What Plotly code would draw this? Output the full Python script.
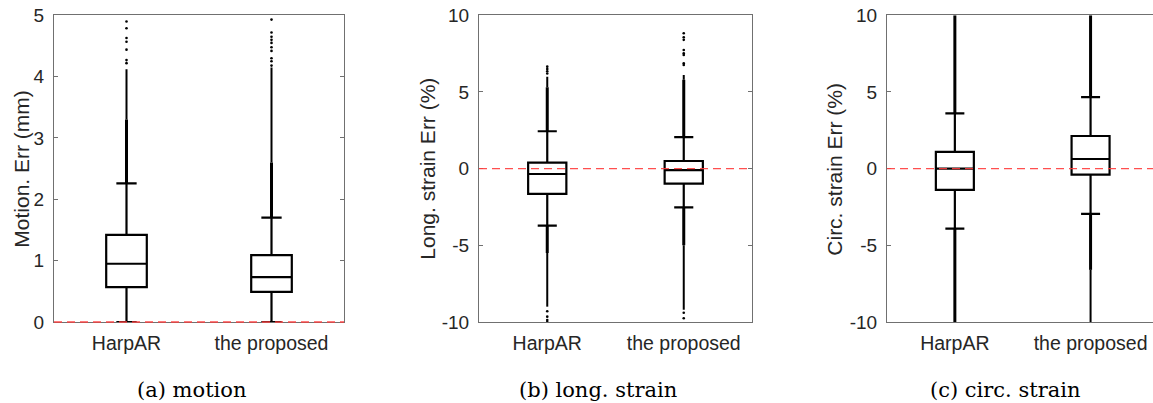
import plotly.graph_objects as go

categories = ["HarpAR", "the proposed"]

# ---- (a) motion ----
motion_q1 = [0.57, 0.49]
motion_med = [0.95, 0.73]
motion_q3 = [1.42, 1.09]
motion_lo = [0.0, 0.0]
motion_hi = [2.26, 1.70]
motion_thick_top = [3.3, 2.6]
motion_thin_top = [4.12, 4.15]
motion_sparse_harpar = [4.22, 4.27, 4.44, 4.57, 4.63, 4.79, 4.90]
motion_sparse_proposed = [4.18, 4.25, 4.30, 4.42, 4.48, 4.55, 4.60, 4.65, 4.72, 4.93]

# ---- (b) long. strain ----
long_q1 = [-1.65, -0.98]
long_med = [-0.35, -0.10]
long_q3 = [0.39, 0.50]
long_lo = [-3.72, -2.52]
long_hi = [2.44, 2.05]
long_thick_top = [5.3, 5.8]
long_thin_top = [6.0, 6.1]
long_thick_bottom = [-5.5, -5.0]
long_thin_bottom = [-9.0, -9.2]
long_sparse_harpar = [6.2, 6.35, 6.5, 6.65, -9.3, -9.65, -9.87, -10.0]
long_sparse_proposed = [6.76, 6.87, 7.41, 7.52, 7.74, 8.4, 8.57, 8.83, -9.4, -9.76]

# ---- (c) circ. strain ----
circ_q1 = [-1.39, -0.39]
circ_med = [0.0, 0.63]
circ_q3 = [1.09, 2.13]
circ_lo = [-3.91, -2.95]
circ_hi = [3.61, 4.66]
circ_thick_top = [10.0, 10.0]
circ_thin_top = [10.0, 10.0]
circ_thick_bottom = [-10.0, -6.6]
circ_thin_bottom = [-10.0, -10.0]

motion_ticks = [0, 1, 2, 3, 4, 5]
strain_ticks = [-10, -5, 0, 5, 10]
motion_ticktext = ["0", "1", "2", "3", "4", "5"]
strain_ticktext = ["-10", "-5", "0", "5", "10"]
reference_value = 0.0

y_titles = ["Motion. Err (mm)", "Long. strain Err (%)", "Circ. strain Err (%)"]
captions = ["(a) motion", "(b) long. strain", "(c) circ. strain"]

W, H = 1153, 403
SANS = "Liberation Sans, Arial, sans-serif"
SERIF = "DejaVu Serif, serif"
FRAME = "#707070"

fig = go.Figure()


def seg(starts, ends):
    xs, ys = [], []
    for c, a, b in zip(categories, starts, ends):
        xs += [c, c, None]
        ys += [a, b, None]
    return xs, ys


def add_panel(k, q1, med, q3, lo, hi, tops, bottoms, sparse):
    xa = "x" if k == 1 else f"x{k}"
    ya = "y" if k == 1 else f"y{k}"
    for (startv, thick, thin) in tops + bottoms:
        xs, ys = seg(startv, thick)
        fig.add_trace(go.Scatter(x=xs, y=ys, mode="lines", line=dict(color="black", width=3),
                                 xaxis=xa, yaxis=ya, showlegend=False, hoverinfo="skip"))
        xs, ys = seg(thick, thin)
        fig.add_trace(go.Scatter(x=xs, y=ys, mode="lines", line=dict(color="black", width=2),
                                 xaxis=xa, yaxis=ya, showlegend=False, hoverinfo="skip"))
    for c, vals in zip(categories, sparse):
        if vals:
            fig.add_trace(go.Scatter(x=[c] * len(vals), y=vals, mode="markers",
                                     marker=dict(color="black", size=2.6),
                                     xaxis=xa, yaxis=ya, showlegend=False, hoverinfo="skip"))
    fig.add_trace(go.Box(x=categories, q1=q1, median=med, q3=q3,
                         lowerfence=lo, upperfence=hi, width=0.28, whiskerwidth=0.5,
                         line=dict(color="black", width=2.2), fillcolor="rgba(0,0,0,0)",
                         boxpoints=False, xaxis=xa, yaxis=ya, showlegend=False))


add_panel(1, motion_q1, motion_med, motion_q3, motion_lo, motion_hi,
          [(motion_hi, motion_thick_top, motion_thin_top)], [],
          [motion_sparse_harpar, motion_sparse_proposed])
add_panel(2, long_q1, long_med, long_q3, long_lo, long_hi,
          [(long_hi, long_thick_top, long_thin_top)],
          [(long_lo, long_thick_bottom, long_thin_bottom)],
          [long_sparse_harpar, long_sparse_proposed])
add_panel(3, circ_q1, circ_med, circ_q3, circ_lo, circ_hi,
          [(circ_hi, circ_thick_top, circ_thin_top)],
          [(circ_lo, circ_thick_bottom, circ_thin_bottom)],
          [[], []])

ydom = [1 - 322 / H, 1 - 15.3 / H]
xdoms = [[54 / W, 344 / W], [479 / W, 752 / W], [887 / W, 1.0]]
xranges = [[-0.5, 1.5], [-0.5, 1.5], [-0.5, 1.46]]
yranges = [[0, 5], [-10, 10], [-10, 10]]
ytickvals = [motion_ticks, strain_ticks, strain_ticks]
yticktext = [motion_ticktext, strain_ticktext, strain_ticktext]

layout = dict(width=W, height=H, margin=dict(l=0, r=0, t=0, b=0, autoexpand=False),
              paper_bgcolor="white", plot_bgcolor="white", boxmode="overlay",
              showlegend=False)
for i in range(3):
    sx = "" if i == 0 else str(i + 1)
    layout["xaxis" + sx] = dict(domain=xdoms[i], anchor="y" + sx, type="category",
                                categoryorder="array", categoryarray=categories,
                                range=xranges[i], showline=True, mirror=True,
                                linecolor=FRAME, linewidth=1, ticks="", showgrid=False,
                                zeroline=False, ticklabelstandoff=4, automargin=False,
                                layer="below traces",
                                tickfont=dict(family=SANS, size=19.5, color="#262626"))
    layout["yaxis" + sx] = dict(domain=ydom, anchor="x" + sx, range=yranges[i],
                                tickvals=ytickvals[i], ticktext=yticktext[i], showline=True,
                                mirror="ticks" if i < 2 else False,
                                linecolor=FRAME, linewidth=1, ticks="inside", ticklen=4,
                                tickcolor=FRAME, showgrid=False, zeroline=False,
                                ticklabelstandoff=5, automargin=False,
                                layer="below traces",
                                tickfont=dict(family=SANS, size=19, color="#262626"))
fig.update_layout(**layout)

# red dashed reference line at 0, placed in paper units so it is not clipped at the axis edge
for i in range(3):
    sx = "" if i == 0 else str(i + 1)
    lo_r, hi_r = yranges[i]
    yp = ydom[0] + (reference_value - lo_r) / (hi_r - lo_r) * (ydom[1] - ydom[0])
    fig.add_shape(type="line", xref=("x" + sx) + " domain", yref="paper",
                  x0=0, x1=1, y0=yp, y1=yp, layer="above",
                  line=dict(color="rgba(255,60,60,0.9)", width=1.4, dash="8px,5px"))

ytitle_x = [22, 428, 835]
caption_x = [191, 598, 1005]
for i in range(3):
    fig.add_annotation(x=ytitle_x[i] / W, y=1 - 168.7 / H, xref="paper", yref="paper",
                       text=y_titles[i], textangle=-90, showarrow=False,
                       font=dict(family=SANS, size=21, color="#262626"),
                       xanchor="center", yanchor="middle")
    fig.add_annotation(x=caption_x[i] / W, y=1 - 390 / H, xref="paper", yref="paper",
                       text=captions[i], showarrow=False,
                       font=dict(family=SERIF, size=21, color="black"),
                       xanchor="center", yanchor="middle")

fig.write_html("out.html", config={"displayModeBar": False},
               post_script="document.body.style.margin='0px';")
